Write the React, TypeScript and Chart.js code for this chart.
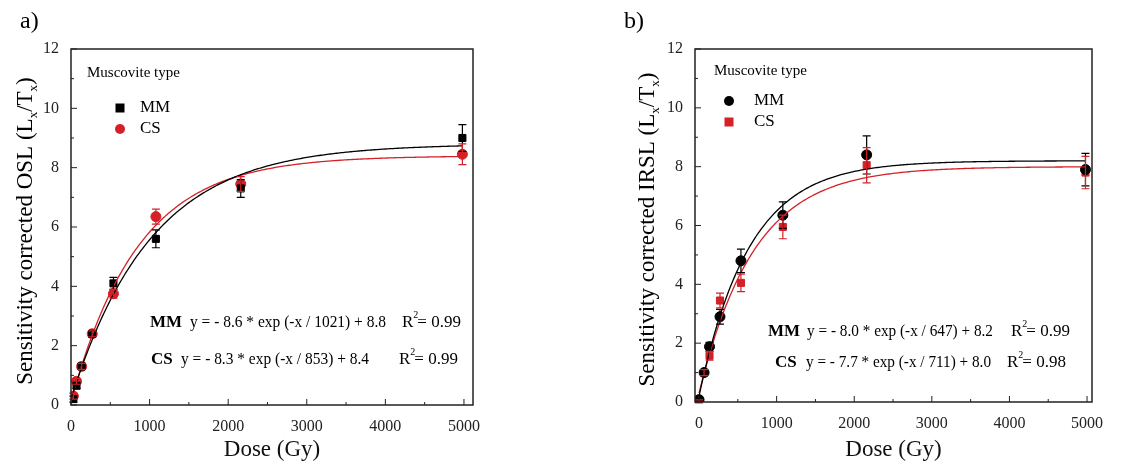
import React, { useEffect, useRef } from "react";
import { Chart, registerables } from "chart.js";

Chart.register(...registerables);

const doses = [30, 70, 135, 270, 540, 1080, 2160, 4980];
const oslMM = [0.2, 0.65, 1.3, 2.4, 4.1, 5.6, 7.3, 9.0];
const oslMMErr = [0.1, 0.1, 0.1, 0.1, 0.2, 0.3, 0.3, 0.45];
const oslCS = [0.3, 0.8, 1.3, 2.4, 3.75, 6.35, 7.45, 8.45];
const oslCSErr = [0.1, 0.1, 0.1, 0.1, 0.15, 0.25, 0.25, 0.35];

const irDoses = [0, 65, 135, 270, 540, 1080, 2160, 4980];
const irMM = [0.08, 1.0, 1.88, 2.9, 4.8, 6.35, 8.4, 7.9];
const irMMErr = [0.05, 0.1, 0.15, 0.25, 0.4, 0.45, 0.65, 0.55];
const irCS = [0.02, 1.0, 1.57, 3.45, 4.05, 5.95, 8.05, 7.8];
const irCSErr = [0.05, 0.1, 0.15, 0.25, 0.3, 0.4, 0.6, 0.55];

const xTicks = [0, 1000, 2000, 3000, 4000, 5000];
const yTicks = [0, 2, 4, 6, 8, 10, 12];

// fit parameters as printed on the figure: y = a * exp(-x / b) + c
const fitsOSL = { MM: [-8.6, 1021, 8.8], CS: [-8.3, 853, 8.4] };
const fitsIR = { MM: [-8.0, 647, 8.2], CS: [-7.7, 711, 8.0] };

const RED = "#d42027";
const FONT = "'Liberation Serif', 'DejaVu Serif', serif";

function fitLine(p: number[], x0: number, x1: number) {
  const pts: { x: number; y: number }[] = [];
  for (let x = x0; x <= x1; x += 20) pts.push({ x, y: p[0] * Math.exp(-x / p[1]) + p[2] });
  return pts;
}

type Cfg = {
  letter: string;
  ylabel: string;
  xs: number[];
  s1: number[]; e1: number[]; s2: number[]; e2: number[];
  st1: string; st2: string;
  fits: { MM: number[]; CS: number[] };
  xmin: number; xmax: number;
  yW: number; padR: number; xH: number;
  letterPos: [number, number]; ylabX: number;
  legend: [number, number]; legMarkX: number; legTextX: number; legY: [number, number];
  eq: { y: number; lab: number; eq: number; w: number; r2: number; text: string; r: string }[];
};

const cfgs: Cfg[] = [
  {
    letter: "a)", ylabel: "Sensitivity corrected OSL (L", xs: doses,
    s1: oslMM, e1: oslMMErr, s2: oslCS, e2: oslCSErr, st1: "rect", st2: "circle",
    fits: fitsOSL, xmin: 0, xmax: 5115, yW: 71, padR: 101, xH: 63,
    letterPos: [20, 28], ylabX: 32, legend: [87, 77], legMarkX: 120, legTextX: 140, legY: [108, 129],
    eq: [
      { y: 327, lab: 150, eq: 190, w: 196, r2: 402, text: "y = - 8.6 * exp (-x / 1021) + 8.8", r: "0.99" },
      { y: 364, lab: 151, eq: 181, w: 188, r2: 399, text: "y = - 8.3 * exp (-x / 853) + 8.4", r: "0.99" },
    ],
  },
  {
    letter: "b)", ylabel: "Sensitivity corrected IRSL (L", xs: irDoses,
    s1: irMM, e1: irMMErr, s2: irCS, e2: irCSErr, st1: "circle", st2: "rect",
    fits: fitsIR, xmin: -52, xmax: 5064, yW: 121, padR: 56, xH: 66,
    letterPos: [50, 28], ylabX: 80, legend: [140, 75], legMarkX: 155, legTextX: 180, legY: [101, 122],
    eq: [
      { y: 336, lab: 194, eq: 233, w: 186, r2: 437, text: "y = - 8.0 * exp (-x / 647) + 8.2", r: "0.99" },
      { y: 367, lab: 201, eq: 232, w: 185, r2: 433, text: "y = - 7.7 * exp (-x / 711) + 8.0", r: "0.98" },
    ],
  },
];

function drawMarker(ctx: CanvasRenderingContext2D, style: string, x: number, y: number, color: string) {
  ctx.fillStyle = color;
  if (style === "rect") ctx.fillRect(x - 4.5, y - 4.5, 9, 9);
  else { ctx.beginPath(); ctx.arc(x, y, 5, 0, Math.PI * 2); ctx.fill(); }
}

const Panel = ({ cfg }: { cfg: Cfg }) => {
  const ref = useRef<HTMLCanvasElement | null>(null);
  useEffect(() => {
    const ctx = ref.current?.getContext("2d");
    if (!ctx) return;
    const decor = {
      id: "decor",
      afterDatasetsDraw(chart: any) {
        const c = chart.ctx as CanvasRenderingContext2D;
        const xs = chart.scales.x, ys = chart.scales.y, a = chart.chartArea;
        c.save();
        // error bars
        const err = (vals: number[], errs: number[], col: string) => {
          c.strokeStyle = col; c.lineWidth = 1.2;
          vals.forEach((v, i) => {
            const px = xs.getPixelForValue(cfg.xs[i]);
            const t = ys.getPixelForValue(v + errs[i]), b = ys.getPixelForValue(v - errs[i]);
            c.beginPath(); c.moveTo(px, t); c.lineTo(px, b);
            c.moveTo(px - 4, t); c.lineTo(px + 4, t); c.moveTo(px - 4, b); c.lineTo(px + 4, b); c.stroke();
          });
        };
        err(cfg.s1, cfg.e1, "#000");
        err(cfg.s2, cfg.e2, RED);
        // frame and inward ticks
        c.strokeStyle = "#222"; c.lineWidth = 1.5;
        c.strokeRect(a.left, a.top, a.right - a.left, a.bottom - a.top);
        c.lineWidth = 1;
        for (let v = 0; v <= 5000; v += 500) {
          const px = xs.getPixelForValue(v); const len = v % 1000 === 0 ? 6 : 3;
          c.beginPath(); c.moveTo(px, a.bottom); c.lineTo(px, a.bottom - len); c.stroke();
        }
        for (let v = 0; v <= 12; v += 1) {
          const py = ys.getPixelForValue(v); const len = v % 2 === 0 ? 6 : 3;
          c.beginPath(); c.moveTo(a.left, py); c.lineTo(a.left + len, py); c.stroke();
        }
        // panel letter
        c.fillStyle = "#000"; c.textBaseline = "alphabetic";
        c.font = `24px ${FONT}`; c.fillText(cfg.letter, cfg.letterPos[0], cfg.letterPos[1]);
        // y title with subscripts
        c.save();
        c.translate(cfg.ylabX, (a.top + a.bottom) / 2 + 4);
        c.rotate(-Math.PI / 2);
        const big = `23px ${FONT}`, small = `13px ${FONT}`;
        const parts: [string, string, number][] = [
          [cfg.ylabel, big, 0], ["x", small, 5], ["/T", big, 0], ["x", small, 5], [")", big, 0],
        ];
        let total = 0;
        parts.forEach(([t, f]) => { c.font = f; total += c.measureText(t).width; });
        let cx = -total / 2;
        parts.forEach(([t, f, dy]) => { c.font = f; c.fillText(t, cx, dy); cx += c.measureText(t).width; });
        c.restore();
        // legend
        c.font = `15px ${FONT}`; c.fillStyle = "#000";
        c.fillText("Muscovite type", cfg.legend[0], cfg.legend[1]);
        drawMarker(c, cfg.st1, cfg.legMarkX, cfg.legY[0], "#000");
        drawMarker(c, cfg.st2, cfg.legMarkX, cfg.legY[1], RED);
        c.fillStyle = "#000"; c.font = `17px ${FONT}`; c.textBaseline = "middle";
        c.fillText("MM", cfg.legTextX, cfg.legY[0]);
        c.fillText("CS", cfg.legTextX, cfg.legY[1]);
        // equations
        c.textBaseline = "alphabetic";
        cfg.eq.forEach((e, i) => {
          c.font = `bold 17px ${FONT}`; c.fillText(i === 0 ? "MM" : "CS", e.lab, e.y);
          c.font = `17px ${FONT}`; c.fillText(e.text, e.eq, e.y, e.w);
          c.fillText("R", e.r2, e.y);
          const w = c.measureText("R").width;
          c.font = `10px ${FONT}`; c.fillText("2", e.r2 + w, e.y - 9);
          c.font = `17px ${FONT}`; c.fillText("= " + e.r, e.r2 + w + 4, e.y, 52);
        });
        c.restore();
      },
    };
    const chart = new Chart(ctx, {
      type: "scatter",
      data: {
        datasets: [
          { type: "line", data: fitLine(cfg.fits.MM, 0, 4980), borderColor: "#000", borderWidth: 1.3, pointRadius: 0, fill: false },
          { type: "line", data: fitLine(cfg.fits.CS, 0, 4980), borderColor: RED, borderWidth: 1.3, pointRadius: 0, fill: false },
          { data: cfg.xs.map((x, i) => ({ x, y: cfg.s1[i] })), pointStyle: cfg.st1 as any, pointRadius: 5, backgroundColor: "#000", borderColor: "#000" },
          { data: cfg.xs.map((x, i) => ({ x, y: cfg.s2[i] })), pointStyle: cfg.st2 as any, pointRadius: 5, backgroundColor: RED, borderColor: RED },
        ],
      },
      options: {
        responsive: false,
        animation: false,
        layout: { padding: { top: 49, right: cfg.padR, left: 0, bottom: 0 } },
        plugins: { legend: { display: false }, tooltip: { enabled: false } },
        scales: {
          x: {
            type: "linear", min: cfg.xmin, max: cfg.xmax,
            afterBuildTicks: (s: any) => { s.ticks = xTicks.map((v) => ({ value: v })); },
            afterFit: (s: any) => { s.height = cfg.xH; },
            grid: { display: false }, border: { display: false },
            ticks: { color: "#222", font: { family: FONT, size: 16 }, padding: 4, callback: (v: any) => String(v) },
            title: { display: true, text: "Dose (Gy)", color: "#111", font: { family: FONT, size: 23 }, padding: { top: 2 } },
          },
          y: {
            min: 0, max: 12,
            afterBuildTicks: (s: any) => { s.ticks = yTicks.map((v) => ({ value: v })); },
            afterFit: (s: any) => { s.width = cfg.yW; },
            grid: { display: false }, border: { display: false },
            ticks: { color: "#222", font: { family: FONT, size: 16 }, padding: 4, callback: (v: any) => String(v) },
          },
        },
      },
      plugins: [decor],
    });
    return () => chart.destroy();
  }, [cfg]);
  return <canvas ref={ref} width={574} height={468} style={{ display: "block" }} />;
};

export default function App() {
  return (
    <div style={{ position: "fixed", left: 0, top: 0, width: 1148, height: 468, background: "#fff", display: "flex" }}>
      {cfgs.map((c) => <Panel key={c.letter} cfg={c} />)}
    </div>
  );
}
